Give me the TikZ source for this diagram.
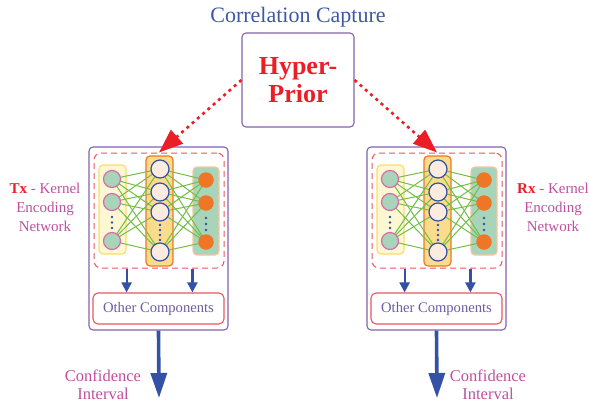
\documentclass[tikz,border=0pt]{standalone}
\usepackage{fontspec}
\setmainfont{Liberation Serif}
\usetikzlibrary{arrows.meta}

\definecolor{framepurple}{RGB}{130,98,170}
\definecolor{dashred}{RGB}{235,85,95}
\definecolor{hyperred}{RGB}{235,30,40}
\definecolor{flowblue}{RGB}{52,82,165}
\definecolor{titleblue}{RGB}{62,88,162}
\definecolor{labelpink}{RGB}{190,80,160}
\definecolor{compviolet}{RGB}{110,90,165}
\definecolor{linkgreen}{RGB}{115,190,70}
\definecolor{inyellow}{RGB}{254,248,210}
\definecolor{inedge}{RGB}{252,220,110}
\definecolor{sagegreen}{RGB}{168,212,185}
\definecolor{pinkedge}{RGB}{220,105,175}
\definecolor{hidfill}{RGB}{251,220,140}
\definecolor{hidedge}{RGB}{238,120,40}
\definecolor{cream}{RGB}{252,235,222}
\definecolor{outedge}{RGB}{250,195,160}
\definecolor{outorange}{RGB}{238,118,38}

\tikzset{
    modulebox/.style={draw=framepurple, line width=1.1pt, rounded corners=4pt},
    netbox/.style={draw=dashred, line width=1pt, dash pattern=on 6pt off 4pt, rounded corners=7pt},
    column/.style={rounded corners=4pt, line width=1.2pt},
    neuron/.style={circle, inner sep=0pt, line width=1.2pt},
    vdot/.style={circle, fill=flowblue, inner sep=0pt, minimum size=2.6pt},
    nnlink/.style={draw=linkgreen, line width=1pt},
    feed/.style={draw=flowblue, line width=2.2pt, -{Triangle[length=10pt,width=10pt]}},
    output/.style={draw=flowblue, line width=3.6pt, -{Triangle[length=25pt,width=16pt]}},
    prior/.style={draw=hyperred, line width=2.6pt, dash pattern=on 3pt off 4pt,
        -{Triangle[length=24pt,width=18pt]}},
}

\begin{document}
\begin{tikzpicture}[x=1pt, y=-1pt]
    \useasboundingbox (0,0) rectangle (589,402);

    % Hyper-prior block on top
    \node[text=titleblue, font=\fontsize{22}{24}\selectfont] (title) at (298,17) {Correlation Capture};
    \node[draw=framepurple, line width=1.1pt, rounded corners=4pt, minimum width=112pt,
        minimum height=94pt, align=center, text=hyperred,
        font=\fontsize{26}{27.5}\selectfont\bfseries] (hyper) at (298,80) {Hyper-\\Prior};

    % One encoding module per side
    \foreach \side/\dx/\lx/\cx/\tag in {L/0/45/103/Tx, R/278/553/488/Rx} {
        \node[modulebox, minimum width=139pt, minimum height=183pt] (\side-box) at (\dx+158.5,238.5) {};
        \node[netbox, minimum width=130pt, minimum height=115pt] (\side-dash) at (\dx+159,210.5) {};

        % Layer columns
        \node[column, fill=inyellow, draw=inedge, minimum width=27pt, minimum height=89pt] (\side-incol) at (\dx+112.5,209.5) {};
        \node[column, fill=hidfill, draw=hidedge, minimum width=27pt, minimum height=110pt] (\side-hidcol) at (\dx+159.5,211) {};
        \node[column, fill=sagegreen, draw=outedge, minimum width=26pt, minimum height=88pt] (\side-outcol) at (\dx+206,211) {};

        % Connections between layers
        \foreach \i/\y in {1/179,2/202,3/241}
            \coordinate (\side-pin\i) at (\dx+112,\y);
        \foreach \j/\y in {1/169,2/192,3/212,4/252}
            \coordinate (\side-phid\j) at (\dx+160,\y);
        \foreach \k/\y in {1/180,2/203,3/242}
            \coordinate (\side-pout\k) at (\dx+206,\y);
        \foreach \i in {1,2,3} {
            \foreach \j in {1,...,4} {
                \draw[nnlink] (\side-pin\i) -- (\side-phid\j);
            }
        }
        \foreach \j in {1,...,4} {
            \foreach \k in {1,2,3} {
                \draw[nnlink] (\side-phid\j) -- (\side-pout\k);
            }
        }

        % Neurons
        \foreach \i in {1,2,3}
            \node[neuron, fill=sagegreen, draw=pinkedge, minimum size=17pt] (\side-in\i) at (\side-pin\i) {};
        \foreach \j in {1,...,4}
            \node[neuron, fill=cream, draw=flowblue, minimum size=18pt] (\side-hid\j) at (\side-phid\j) {};
        \foreach \k in {1,2,3}
            \node[neuron, fill=outorange, minimum size=15.5pt] (\side-out\k) at (\side-pout\k) {};

        % Vertical dots
        \foreach \y in {217,222.5,228}
            \node[vdot] at (\dx+112,\y) {};
        \foreach \y in {225,230,235,240}
            \node[vdot] at (\dx+160,\y) {};
        \foreach \y in {218,224,230}
            \node[vdot] at (\dx+206,\y) {};

        % Other components and outputs
        \node[draw=dashred, line width=1.1pt, rounded corners=5pt, minimum width=131pt,
            minimum height=31pt, text=compviolet, font=\fontsize{14.6}{16}\selectfont] (\side-other) at (\dx+158.5,308.5) {Other Components};
        \draw[feed] (\side-dash.south -| \side-incol.east) -- (\side-other.north -| \side-incol.east);
        \draw[feed] (\side-dash.south -| \side-outcol.west) -- (\side-other.north -| \side-outcol.west);

        \coordinate (\side-end) at (\dx+159,398);
        \draw[output] (\side-box.south) -- (\side-end);
        \node[align=center, text=labelpink, font=\fontsize{16.5}{18}\selectfont] (\side-conf) at (\cx,385) {Confidence\\Interval};

        \node[align=center, text=labelpink, font=\fontsize{15}{19}\selectfont] (\side-label) at (\lx,207)
            {\textcolor{hyperred}{\bfseries \tag} - Kernel\\Encoding\\Network};
    }

    % Prior links
    \draw[prior] (hyper.west) -- (L-dash.north);
    \draw[prior] (hyper.east) -- (R-dash.north);
\end{tikzpicture}
\end{document}
